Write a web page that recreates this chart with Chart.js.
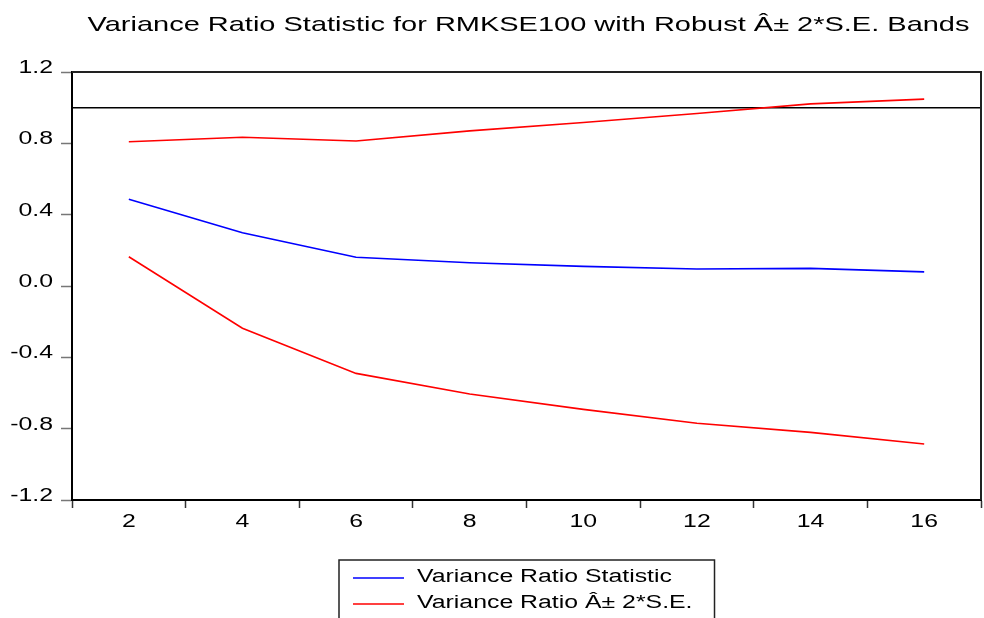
<!DOCTYPE html>
<html>
<head>
<meta charset="utf-8">
<title>Variance Ratio Statistic</title>
<script src="https://cdn.jsdelivr.net/npm/chart.js@4/dist/chart.umd.min.js"></script>
<style>
  html, body { margin: 0; padding: 0; background: #fff; }
  canvas { display: block; }
</style>
</head>
<body>
<canvas id="vr" width="984" height="618"></canvas>
<script>
// Lags (holding periods) on the x axis
const CATEGORIES = ['2', '4', '6', '8', '10', '12', '14', '16'];

// Variance ratio statistic per lag
const VR_STAT = [0.486, 0.299, 0.161, 0.130, 0.110, 0.095, 0.099, 0.079];

// Robust +/- 2 standard error bands
const BAND_UPPER = [0.809, 0.834, 0.813, 0.870, 0.917, 0.967, 1.021, 1.048];
const BAND_LOWER = [0.164, -0.237, -0.490, -0.606, -0.692, -0.770, -0.821, -0.886];

// Value axis ticks and the null-hypothesis level (VR = 1)
const Y_TICKS = [-1.2, -0.8, -0.4, 0.0, 0.4, 0.8, 1.2];
const REFERENCE_LEVEL = 1.0;

const TITLE = 'Variance Ratio Statistic for RMKSE100 with Robust \u00C2\u00B1 2*S.E. Bands';
const STAT_LABEL = 'Variance Ratio Statistic';
const BAND_LABEL = 'Variance Ratio \u00C2\u00B1 2*S.E.';

const FONT = '"Liberation Sans", Arial, sans-serif';
const TEXT_STRETCH = 1.38;   // text is drawn horizontally widened

// Widen every glyph run drawn on this chart's context
const wideText = {
  id: 'wideText',
  beforeInit(chart) {
    const ctx = chart.ctx;
    const fill = ctx.fillText.bind(ctx);
    const measure = ctx.measureText.bind(ctx);
    ctx.fillText = function (text, x, y) {
      ctx.save();
      ctx.translate(x, y);
      ctx.scale(TEXT_STRETCH, 1);
      fill(text, 0, 0);
      ctx.restore();
    };
    ctx.measureText = function (text) {
      const m = measure(text);
      return {
        width: m.width * TEXT_STRETCH,
        actualBoundingBoxAscent: m.actualBoundingBoxAscent,
        actualBoundingBoxDescent: m.actualBoundingBoxDescent,
        actualBoundingBoxLeft: m.actualBoundingBoxLeft * TEXT_STRETCH,
        actualBoundingBoxRight: m.actualBoundingBoxRight * TEXT_STRETCH
      };
    };
  }
};

// Frame (top/right edges) and the horizontal line at VR = 1
const frameAndLevel = {
  id: 'frameAndLevel',
  beforeDatasetsDraw(chart) {
    const { ctx, chartArea: a, scales } = chart;
    const y = scales.y.getPixelForValue(REFERENCE_LEVEL);
    ctx.save();
    ctx.strokeStyle = '#000';
    ctx.lineWidth = 1.5;
    ctx.beginPath();
    ctx.moveTo(a.left, y);
    ctx.lineTo(a.right, y);
    ctx.stroke();
    ctx.lineWidth = 2;
    ctx.strokeStyle = '#222';
    ctx.beginPath();
    ctx.moveTo(a.left, a.top);
    ctx.lineTo(a.right, a.top);
    ctx.lineTo(a.right, a.bottom);
    ctx.stroke();
    ctx.restore();
  }
};

// Title centred over the plot area
const plotTitle = {
  id: 'plotTitle',
  afterDraw(chart) {
    const { ctx, chartArea: a } = chart;
    ctx.save();
    ctx.font = '21px ' + FONT;
    ctx.fillStyle = '#000';
    ctx.textAlign = 'center';
    ctx.textBaseline = 'alphabetic';
    ctx.fillText(TITLE, (a.left + a.right) / 2 + 2, 31);
    ctx.restore();
  }
};

// Boxed legend below the axis, one row per distinct series label
const boxedLegend = {
  id: 'boxedLegend',
  afterDraw(chart) {
    const { ctx, chartArea: a } = chart;
    const seen = new Set();
    const items = [];
    chart.data.datasets.forEach(ds => {
      if (!seen.has(ds.label)) {
        seen.add(ds.label);
        items.push({ label: ds.label, color: ds.borderColor });
      }
    });
    ctx.save();
    ctx.font = '18px ' + FONT;
    const textW = Math.max(...items.map(it => ctx.measureText(it.label).width));
    const padL = 14, sample = 51, gap = 13, padR = 22;
    const boxW = padL + sample + gap + textW + padR;
    const left = Math.round((a.left + a.right) / 2 - boxW / 2);
    const top = 560;
    ctx.strokeStyle = '#222';
    ctx.lineWidth = 1.5;
    ctx.strokeRect(left, top, boxW, 80);
    items.forEach((it, i) => {
      const ly = 578 + i * 26;
      ctx.strokeStyle = it.color;
      ctx.lineWidth = 1.5;
      ctx.beginPath();
      ctx.moveTo(left + padL, ly);
      ctx.lineTo(left + padL + sample, ly);
      ctx.stroke();
      ctx.fillStyle = '#000';
      ctx.textAlign = 'left';
      ctx.textBaseline = 'alphabetic';
      ctx.fillText(it.label, left + padL + sample + gap, ly + 3.5);
    });
    ctx.restore();
  }
};

const line = (label, data, color) => ({
  label, data,
  borderColor: color,
  backgroundColor: color,
  borderWidth: 1.6,
  pointRadius: 0,
  pointHoverRadius: 0,
  tension: 0,
  fill: false
});

new Chart(document.getElementById('vr'), {
  type: 'line',
  data: {
    labels: CATEGORIES,
    datasets: [
      line(STAT_LABEL, VR_STAT, '#0000FF'),
      line(BAND_LABEL, BAND_UPPER, '#FF0000'),
      line(BAND_LABEL, BAND_LOWER, '#FF0000')
    ]
  },
  plugins: [wideText, frameAndLevel, plotTitle, boxedLegend],
  options: {
    responsive: false,
    animation: false,
    events: [],
    layout: { padding: { top: 72, right: 3, bottom: 0, left: 0 } },
    plugins: {
      legend: { display: false },
      title: { display: false },
      tooltip: { enabled: false }
    },
    scales: {
      x: {
        type: 'category',
        offset: true,
        grid: {
          offset: true,
          drawOnChartArea: false,
          drawTicks: true,
          tickLength: 8,
          tickWidth: 1.5,
          tickColor: '#333'
        },
        border: { display: true, color: '#000', width: 2 },
        ticks: {
          color: '#000',
          font: { family: FONT, size: 18 },
          padding: 3,
          maxRotation: 0,
          autoSkip: false
        },
        afterFit(scale) { scale.height = 118; }
      },
      y: {
        type: 'linear',
        min: Y_TICKS[0],
        max: Y_TICKS[Y_TICKS.length - 1],
        afterBuildTicks(scale) {
          scale.ticks = Y_TICKS.map(v => ({ value: v }));
        },
        grid: {
          drawOnChartArea: false,
          drawTicks: true,
          tickLength: 11,
          tickWidth: 1.5,
          tickColor: '#777'
        },
        border: { display: true, color: '#000', width: 2 },
        ticks: {
          color: '#000',
          font: { family: FONT, size: 18 },
          padding: 8,
          labelOffset: -4,
          callback: v => Number(v).toFixed(1)
        },
        afterFit(scale) { scale.width = 72; }
      }
    }
  }
});
</script>
</body>
</html>
